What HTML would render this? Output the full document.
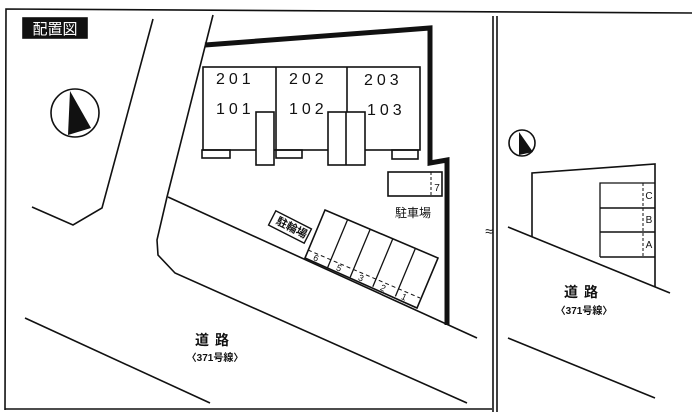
<!DOCTYPE html><html><head><meta charset="utf-8"><style>html,body{margin:0;padding:0;background:#fff}svg{display:block}text{font-family:"Liberation Sans","Noto Sans CJK JP",sans-serif;fill:#111}</style></head><body>
<svg width="700" height="418" viewBox="0 0 700 418" xmlns="http://www.w3.org/2000/svg">
<g fill="none" stroke="#111" stroke-width="1.6">
<polyline points="5,410 6,9 692,13"/>
<line x1="5" y1="409" x2="492" y2="409"/>
<line x1="493" y1="16" x2="493" y2="412"/><line x1="497" y1="16" x2="497" y2="412"/>
<rect x="23" y="18" width="64" height="20" fill="#111"/>
<circle cx="75" cy="113" r="24"/>
<polyline points="153,19 102,208 73,225 32,207"/>
<polyline points="213,15 167,197 157,240 158,255 175,273 467,403"/>
<polyline points="168,197 477,338"/>
<line x1="25" y1="318" x2="210" y2="403"/>
<rect x="203" y="67" width="217" height="83" fill="#fff"/>
<line x1="276" y1="67" x2="276" y2="150"/><line x1="347" y1="67" x2="347" y2="150"/>
<rect x="256" y="112" width="18" height="53" fill="#fff"/>
<rect x="328" y="112" width="37" height="53" fill="#fff"/><line x1="346" y1="112" x2="346" y2="165"/>
<rect x="202" y="150" width="28" height="8"/><rect x="276" y="150" width="26" height="8"/><rect x="392" y="150" width="26" height="9"/>
<rect x="388" y="172" width="54" height="24"/>
<line x1="431" y1="172" x2="431" y2="196" stroke-dasharray="3,2" stroke-width="1"/>
<polygon points="325,210 438,258 417,308 305,258"/>
<g stroke-width="1.3"><line x1="347.6" y1="219.6" x2="327.6" y2="267.6"/><line x1="370.2" y1="229.2" x2="350.2" y2="277.2"/><line x1="392.8" y1="238.8" x2="372.8" y2="286.8"/><line x1="415.4" y1="248.4" x2="395.4" y2="296.4"/></g>
<line x1="308" y1="250" x2="420" y2="298" stroke-dasharray="4,3" stroke-width="1"/>
<rect x="-20" y="-8" width="40" height="16" transform="translate(290,227) rotate(27)" stroke-width="1.4"/>
<circle cx="522" cy="143" r="13"/>
<polyline points="532,237 532,173 655,164 655,287"/>
<line x1="508" y1="227" x2="670" y2="293"/>
<line x1="508" y1="338" x2="655" y2="398"/>
<polyline points="600,257 600,183 655,183" stroke-width="1.3"/>
<line x1="600" y1="208" x2="655" y2="208"/><line x1="600" y1="232" x2="655" y2="232"/><line x1="600" y1="257" x2="655" y2="257"/>
<line x1="643" y1="183" x2="643" y2="257" stroke-dasharray="3,2" stroke-width="1"/>
</g>
<polyline points="205,45 430,28 430,163 447,160 447,325" fill="none" stroke="#111" stroke-width="5"/>
<polygon points="70,91 91,128 68,135" fill="#111"/>
<polygon points="519,132 533,152 519,155" fill="#111"/>
<text x="55" y="34" font-size="15" text-anchor="middle" style="fill:#fff">配置図</text>
<g font-size="16" letter-spacing="4"><text x="216" y="84">201</text><text x="289" y="84">202</text><text x="364" y="85">203</text><text x="216" y="114">101</text><text x="289" y="114">102</text><text x="367" y="115">103</text></g>
<text x="437" y="191" font-size="10" text-anchor="middle">7</text>
<text x="413" y="217" font-size="12" text-anchor="middle">駐車場</text>
<text transform="translate(290,231) rotate(27)" font-size="11" text-anchor="middle" font-weight="bold">駐輪場</text>
<g font-size="9" text-anchor="middle"><text x="316" y="261" transform="rotate(24 316 258)">6</text><text x="339" y="271" transform="rotate(24 339 268)">5</text><text x="361" y="281" transform="rotate(24 361 278)">3</text><text x="383" y="291" transform="rotate(24 383 288)">2</text><text x="404" y="300" transform="rotate(24 404 297)">1</text></g>
<g font-size="10" text-anchor="middle" font-family="Liberation Serif"><text x="649" y="199">C</text><text x="649" y="223">B</text><text x="649" y="248">A</text></g>
<text x="215" y="345" font-size="14" text-anchor="middle" font-weight="bold" letter-spacing="6">道路</text>
<text x="215" y="361" font-size="10" text-anchor="middle" font-weight="bold">〈371号線〉</text>
<text x="584" y="297" font-size="14" text-anchor="middle" font-weight="bold" letter-spacing="6">道路</text>
<text x="584" y="314" font-size="10" text-anchor="middle" font-weight="bold">〈371号線〉</text>
<text x="489" y="236" font-size="14" text-anchor="middle">≈</text>
</svg></body></html>
